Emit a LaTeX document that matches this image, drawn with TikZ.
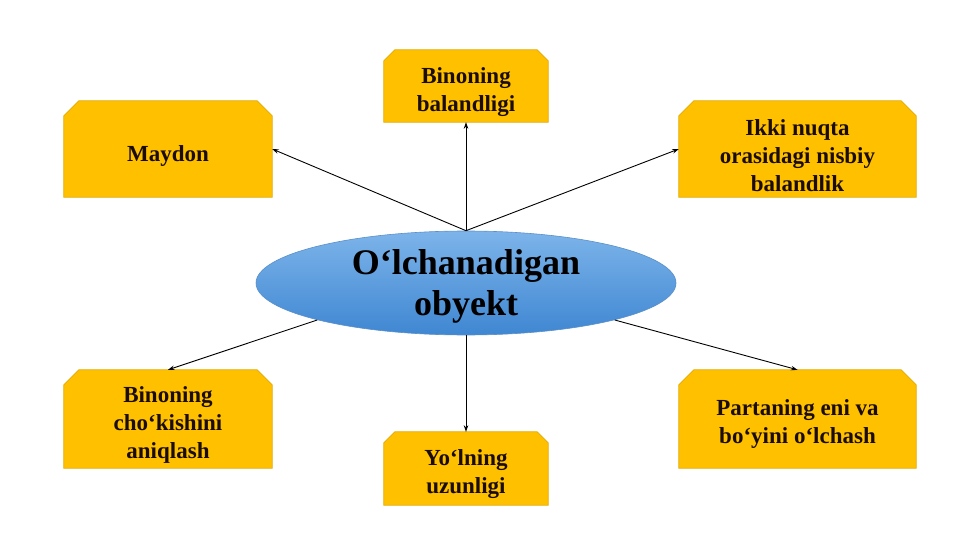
\documentclass[tikz,border=0pt]{standalone}
\usepackage{fontspec}
\setmainfont{Liberation Serif}
\usetikzlibrary{shapes.geometric,arrows.meta}
\definecolor{boxfill}{HTML}{FFC000}
\definecolor{boxline}{HTML}{E3A900}
\definecolor{elltop}{HTML}{7DB4EA}
\definecolor{ellbot}{HTML}{3F87D2}
\definecolor{ellline}{HTML}{5A8FC8}
\definecolor{txt}{HTML}{1A0D00}
\tikzset{
  gbox/.style={minimum width=#1, inner sep=0pt},
  gtext/.style={inner sep=0pt, align=center, text=txt,
    font=\fontsize{23}{28}\selectfont\bfseries},
  link/.style={draw=black, line width=0.9pt, -{Stealth[length=6.5pt,width=4.5pt]}},
  hub/.style={ellipse, minimum width=420pt, minimum height=104pt, inner sep=0pt,
    top color=elltop, bottom color=ellbot, draw=ellline, line width=0.6pt},
  hubtext/.style={inner sep=0pt, align=center, text=black,
    font=\fontsize{36}{41}\selectfont\bfseries}
}
% chamfered outline of a named node: #1 name, #2 chamfer
\newcommand{\snipbox}[2]{%
  \path[fill=boxfill, draw=boxline, line width=0.7pt]
    (#1.south west) -- ([yshift=-#2]#1.north west) -- ([xshift=#2]#1.north west)
    -- ([xshift=-#2]#1.north east) -- ([yshift=-#2]#1.north east) -- (#1.south east) -- cycle;}
\begin{document}
\begin{tikzpicture}[x=1pt,y=-1pt]
\useasboundingbox (0,0) rectangle (960,540);

\node[gbox=208pt, minimum height=96pt] (maydon) at (168,149) {};
\node[gbox=164pt, minimum height=72pt] (bin) at (466,86) {};
\node[gbox=237pt, minimum height=96pt] (ikki) at (797.5,149) {};
\node[gbox=208pt, minimum height=98pt] (chok) at (168,419) {};
\node[gbox=164pt, minimum height=73pt] (yol) at (466,468.5) {};
\node[gbox=237pt, minimum height=98pt] (part) at (797.5,419) {};

\snipbox{maydon}{15pt}
\snipbox{bin}{11pt}
\snipbox{ikki}{15pt}
\snipbox{chok}{15pt}
\snipbox{yol}{11pt}
\snipbox{part}{15pt}

\node[gtext] (maydon-t) at ([yshift=-7pt]maydon.center) {Maydon};
\node[gtext] (bin-t) at ([yshift=-6pt]bin.center) {Binoning\\balandligi};
\node[gtext] (ikki-t) at ([yshift=-7pt]ikki.center) {Ikki nuqta\\orasidagi nisbiy\\balandlik};
\node[gtext] (chok-t) at ([yshift=-6pt]chok.center) {Binoning\\cho‘kishini\\aniqlash};
\node[gtext] (yol-t) at ([yshift=-6pt]yol.center) {Yo‘lning\\uzunligi};
\node[gtext] (part-t) at ([yshift=-5pt]part.center) {Partaning eni va\\bo‘yini o‘lchash};

\node[hub] (el) at (466,283) {};
\node[hubtext] (el-t) at ([yshift=-3pt]el.center) {O‘lchanadigan\\obyekt};

\draw[link] (el.north) -- (maydon.east);
\draw[link] (el.north) -- (bin.south);
\draw[link] (el.north) -- (ikki.west);
\draw[link] (el.south west) -- (chok.north);
\draw[link] (el.south) -- (yol.north);
\draw[link] (el.south east) -- (part.north);
\end{tikzpicture}
\end{document}
